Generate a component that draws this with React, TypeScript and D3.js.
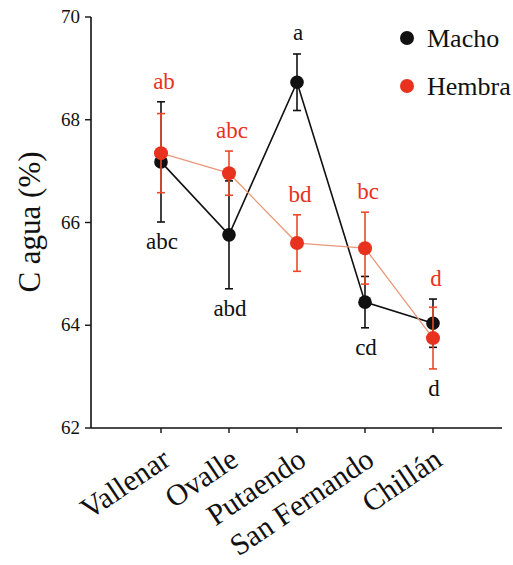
import React from "react";
import * as d3 from "d3";

const categories = ["Vallenar", "Ovalle", "Putaendo", "San Fernando", "Chillán"];
const machoMean = [67.18, 65.76, 68.73, 64.45, 64.04];
const machoErr = [1.17, 1.05, 0.55, 0.5, 0.47];
const hembraMean = [67.35, 66.96, 65.6, 65.5, 63.75];
const hembraErr = [0.77, 0.43, 0.55, 0.7, 0.6];
const machoLetters = ["abc", "abd", "a", "cd", "d"];
const machoLetterSide = ["below", "below", "above", "below", "below"];
const hembraLetters = ["ab", "abc", "bd", "bc", "d"];
const yTicks = [62, 64, 66, 68, 70];
const seriesNames = ["Macho", "Hembra"];

const W = 513;
const H = 565;
const BLACK = "#111";
const RED = "#e8321e";
const RED_BAR = "#ea4a26";
const RED_LINE = "#e9987a";
const tf = { fontFamily: '"Liberation Serif"' };

export default function App() {
  const axisX = 91;
  const axisY = 428;
  const y = d3.scaleLinear().domain([62, 70]).range([428, 17]);
  const x = d3.scaleLinear().domain([0, 4]).range([161, 433]);
  const idx = categories.map((_, i) => i);

  const mLine = d3
    .line<number>()
    .x((_, i) => x(i))
    .y((v) => y(v))(machoMean);
  const hLine = d3
    .line<number>()
    .x((_, i) => x(i))
    .y((v) => y(v))(hembraMean);

  const errBar = (cx: number, m: number, e: number, color: string, key: string) => {
    const t = y(m + e);
    const b = y(m - e);
    return (
      <g key={key} stroke={color} strokeWidth={1.6}>
        <line x1={cx} x2={cx} y1={t} y2={b} />
        <line x1={cx - 4} x2={cx + 4} y1={t} y2={t} />
        <line x1={cx - 4} x2={cx + 4} y1={b} y2={b} />
      </g>
    );
  };

  const mTop = (i: number) => y(machoMean[i] + machoErr[i]);
  const hTop = (i: number) => y(hembraMean[i] + hembraErr[i]);
  const bottomOf = (i: number) =>
    Math.max(y(machoMean[i] - machoErr[i]), y(hembraMean[i] - hembraErr[i]));
  const redTop = (i: number) =>
    Math.abs(mTop(i) - hTop(i)) < 40 ? Math.min(mTop(i), hTop(i)) : hTop(i);

  return (
    <svg
      width={W}
      height={H}
      style={{ position: "absolute", left: 0, top: 0, background: "#fff" }}
    >
      <rect x={0} y={0} width={W} height={H} fill="#fff" />
      <line x1={axisX} x2={axisX} y1={17} y2={axisY} stroke={BLACK} strokeWidth={1.6} />
      <line x1={axisX} x2={502} y1={axisY} y2={axisY} stroke={BLACK} strokeWidth={1.6} />
      {yTicks.map((t) => (
        <g key={t}>
          <line x1={axisX - 6} x2={axisX} y1={y(t)} y2={y(t)} stroke={BLACK} strokeWidth={1.4} />
          <text x={80} y={y(t) + 6} fontSize={19} textAnchor="end" fill={BLACK} style={tf}>
            {t}
          </text>
        </g>
      ))}
      {idx.map((i) => (
        <g key={i}>
          <line x1={x(i)} x2={x(i)} y1={axisY} y2={axisY + 5} stroke={BLACK} strokeWidth={1.4} />
          <text
            transform={`translate(${x(i) + 11},${464}) rotate(-34)`}
            fontSize={30}
            textAnchor="end"
            fill={BLACK}
            style={tf}
          >
            {categories[i]}
          </text>
        </g>
      ))}
      <text
        transform={`translate(40,222) rotate(-90)`}
        fontSize={31}
        textAnchor="middle"
        fill={BLACK}
        style={tf}
      >
        C agua (%)
      </text>

      <path d={mLine ?? ""} fill="none" stroke={BLACK} strokeWidth={1.6} />
      {idx.map((i) => errBar(x(i), machoMean[i], machoErr[i], BLACK, "me" + i))}
      {idx.map((i) => (
        <circle key={"mc" + i} cx={x(i)} cy={y(machoMean[i])} r={6.8} fill={BLACK} />
      ))}

      <path d={hLine ?? ""} fill="none" stroke={RED_LINE} strokeWidth={1.3} />
      {idx.map((i) => errBar(x(i), hembraMean[i], hembraErr[i], RED_BAR, "he" + i))}
      {idx.map((i) => (
        <circle key={"hc" + i} cx={x(i)} cy={y(hembraMean[i])} r={7} fill={RED} />
      ))}

      {idx.map((i) => (
        <text
          key={"ml" + i}
          x={x(i) + 1}
          y={machoLetterSide[i] === "above" ? mTop(i) - 14 : bottomOf(i) + 27}
          fontSize={23}
          textAnchor="middle"
          fill={BLACK}
          style={tf}
        >
          {machoLetters[i]}
        </text>
      ))}
      {idx.map((i) => (
        <text
          key={"hl" + i}
          x={x(i) + 3}
          y={redTop(i) - 13}
          fontSize={23}
          textAnchor="middle"
          fill={RED}
          style={tf}
        >
          {hembraLetters[i]}
        </text>
      ))}

      <circle cx={407} cy={38} r={7} fill={BLACK} />
      <text x={427} y={47} fontSize={26} fill={BLACK} style={tf}>
        {seriesNames[0]}
      </text>
      <circle cx={407} cy={86} r={7} fill={RED} />
      <text x={427} y={95} fontSize={26} fill={BLACK} style={tf}>
        {seriesNames[1]}
      </text>
    </svg>
  );
}
